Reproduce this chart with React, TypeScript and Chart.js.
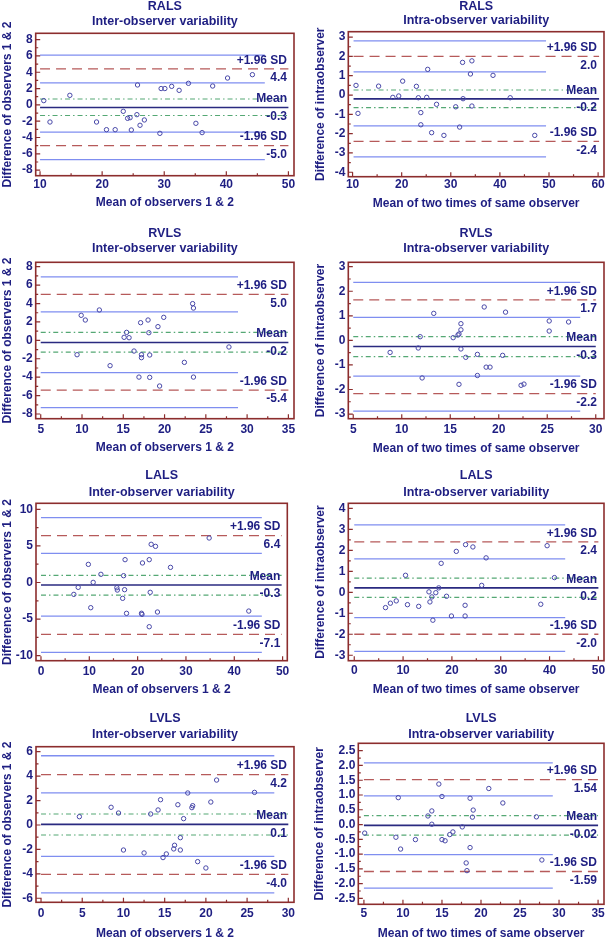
import React, { useEffect, useRef } from "react";
import { Chart, registerables } from "chart.js";

Chart.register(...registerables);

// ---------------- data ----------------
// RALS inter-observer
const RALS_INTER_X = [10.6, 11.6, 14.8, 19.1, 20.7, 22.1, 23.4, 24.1, 24.5, 24.7, 25.6, 25.7, 26.1, 26.8, 29.3, 29.5, 30.1, 31.2, 32.4, 33.9, 35.1, 36.1, 37.8, 40.2, 44.2];
const RALS_INTER_Y = [0.52, -2.1, 1.17, -2.1, -3.04, -3.04, -0.79, -1.65, -1.57, -3.08, -1.2, 2.44, -2.5, -1.85, -3.49, 2.0, 2.0, 2.27, 1.78, 2.64, -2.26, -3.4, 2.31, 3.29, 3.7];
const RALS_INTER_LEVELS = [6.1, 4.4, 2.7, 0.72, -0.33, -1.3, -3.33, -5.0, -6.72];
const RALS_INTER_LABELS = ["4.4", "-0.3", "-5.0"];
const RALS_INTER_XTICKS = [10, 20, 30, 40, 50];
const RALS_INTER_YTICKS = [-8, -6, -4, -2, 0, 2, 4, 6, 8];

// RALS intra-observer
const RALS_INTRA_X = [10.7, 11.1, 15.3, 18.2, 19.4, 20.2, 23.0, 23.4, 23.9, 23.9, 25.1, 25.3, 26.1, 27.1, 28.6, 31.0, 31.8, 32.4, 32.5, 34.0, 34.3, 34.3, 38.6, 42.1, 47.1];
const RALS_INTRA_Y = [0.5, -0.95, 0.46, -0.12, -0.05, 0.72, 0.45, -0.14, -0.91, -1.54, -0.12, 1.33, -1.95, -0.48, -2.09, -0.61, -1.66, 1.69, -0.19, 1.09, 1.77, -0.57, 1.02, -0.14, -2.09];
const RALS_INTRA_LEVELS = [2.8, 2.0, 1.2, 0.26, -0.2, -0.65, -1.6, -2.4, -3.2];
const RALS_INTRA_LABELS = ["2.0", "-0.2", "-2.4"];
const RALS_INTRA_XTICKS = [10, 20, 30, 40, 50, 60];
const RALS_INTRA_YTICKS = [-4, -3, -2, -1, 0, 1, 2, 3];

// RVLS inter-observer
const RVLS_INTER_X = [9.4, 9.9, 10.4, 12.1, 13.4, 15.1, 15.4, 15.7, 16.3, 16.9, 17.1, 17.2, 17.2, 18.0, 18.1, 18.2, 18.2, 19.2, 19.4, 19.9, 22.4, 23.4, 23.5, 23.5, 27.8];
const RVLS_INTER_Y = [-1.56, 2.72, 2.21, 3.3, -2.75, 0.33, 0.87, 0.29, -1.16, -3.99, 1.92, -1.56, -1.88, 2.21, 0.83, -1.59, -4.02, 1.49, -4.96, 2.5, -2.39, 3.99, 3.51, -3.99, -0.72];
const RVLS_INTER_LEVELS = [6.9, 5.0, 3.1, 0.86, -0.23, -1.27, -3.5, -5.4, -7.3];
const RVLS_INTER_LABELS = ["5.0", "-0.2", "-5.4"];
const RVLS_INTER_XTICKS = [5, 10, 15, 20, 25, 30, 35];
const RVLS_INTER_YTICKS = [-8, -6, -4, -2, 0, 2, 4, 6, 8];

// RVLS intra-observer
const RVLS_INTRA_X = [8.8, 11.7, 11.9, 12.1, 13.3, 15.3, 15.8, 15.9, 15.9, 16.1, 16.1, 16.1, 16.6, 17.8, 17.8, 18.5, 18.7, 19.1, 20.4, 20.7, 22.3, 22.6, 25.2, 25.2, 27.2];
const RVLS_INTRA_Y = [-0.49, -0.31, 0.15, -1.53, 1.1, 0.11, 0.22, -1.79, 0.26, 0.68, 0.43, -0.35, -0.69, -0.57, -1.43, 1.36, -1.09, -1.09, -0.61, 1.15, -1.83, -1.78, 0.38, 0.79, 0.75];
const RVLS_INTRA_LEVELS = [2.36, 1.65, 0.94, 0.15, -0.25, -0.66, -1.46, -2.17, -2.88];
const RVLS_INTRA_LABELS = ["1.7", "-0.3", "-2.2"];
const RVLS_INTRA_XTICKS = [5, 10, 15, 20, 25, 30];
const RVLS_INTRA_YTICKS = [-3, -2, -1, 0, 1, 2, 3];

// LALS inter-observer
const LALS_INTER_X = [6.8, 7.7, 9.8, 10.3, 10.8, 12.4, 15.7, 15.8, 16.9, 17.1, 17.3, 17.4, 17.7, 20.8, 20.9, 21.0, 22.4, 22.4, 22.6, 22.8, 23.7, 24.1, 26.8, 34.8, 43.0];
const LALS_INTER_Y = [-1.62, -0.66, 2.48, -3.44, 0.02, 1.12, -0.71, -1.03, -2.16, 0.93, -0.98, 3.12, -4.21, -4.2, -4.35, 2.67, 3.12, -6.04, -1.34, 5.22, 4.94, -4.03, 2.07, 6.08, -3.9];
const LALS_INTER_LEVELS = [8.86, 6.4, 3.97, 0.98, -0.34, -1.72, -4.6, -7.08, -9.54];
const LALS_INTER_LABELS = ["6.4", "-0.3", "-7.1"];
const LALS_INTER_XTICKS = [0, 10, 20, 30, 40, 50];
const LALS_INTER_YTICKS = [-10, -5, 0, 5, 10];

// LALS intra-observer
const LALS_INTRA_X = [6.4, 7.4, 8.6, 10.5, 10.9, 13.2, 15.3, 15.5, 15.9, 16.1, 16.7, 17.3, 17.8, 18.9, 19.9, 20.9, 22.7, 22.7, 22.8, 24.3, 26.1, 27.0, 38.2, 39.5, 41.0];
const LALS_INTRA_Y = [-0.73, -0.52, -0.41, 0.81, -0.59, -0.67, 0.02, -0.46, -0.22, -1.33, -0.02, 0.21, 1.38, -0.19, -1.13, 1.95, -0.62, -1.13, 2.27, 2.16, 0.33, 1.64, -0.57, 2.22, 0.7];
const LALS_INTRA_LEVELS = [3.21, 2.4, 1.59, 0.67, 0.21, -0.24, -1.21, -2.0, -2.82];
const LALS_INTRA_LABELS = ["2.4", "0.2", "-2.0"];
const LALS_INTRA_XTICKS = [0, 10, 20, 30, 40, 50];
const LALS_INTRA_YTICKS = [-3, -2, -1, 0, 1, 2, 3, 4];

// LVLS inter-observer
const LVLS_INTER_X = [4.65, 8.5, 9.4, 10.0, 12.5, 13.3, 14.2, 14.5, 14.8, 15.2, 16.1, 16.2, 16.6, 16.9, 16.9, 17.3, 17.8, 18.3, 18.4, 19.0, 20.0, 20.6, 21.3, 25.9];
const LVLS_INTER_Y = [0.68, 1.45, 0.98, -2.05, -2.29, 0.9, 1.23, 2.07, -2.67, -2.37, -1.96, -1.66, 1.66, -1.04, -2.05, 0.52, 2.62, 1.42, 1.58, -3.0, -3.52, 1.88, 3.68, 2.67];
const LVLS_INTER_LEVELS = [5.67, 4.12, 2.63, 0.9, 0.05, -0.82, -2.57, -4.04, -5.56];
const LVLS_INTER_LABELS = ["4.2", "0.1", "-4.0"];
const LVLS_INTER_XTICKS = [0, 5, 10, 15, 20, 25, 30];
const LVLS_INTER_YTICKS = [-6, -4, -2, 0, 2, 4, 6];

// LVLS intra-observer
const LVLS_INTRA_X = [5.1, 9.1, 9.4, 9.7, 11.6, 13.2, 13.7, 13.7, 14.6, 15.0, 15.0, 15.4, 16.0, 16.4, 17.6, 18.1, 18.2, 18.6, 18.6, 18.9, 19.0, 21.0, 22.8, 27.1, 27.8];
const LVLS_INTRA_Y = [-0.29, -0.43, 0.91, -0.83, -0.51, 0.29, 0.46, 0.01, 1.37, 0.95, -0.51, -0.55, -0.34, -0.25, -0.08, -1.3, -1.56, 0.89, -0.78, 0.25, 0.49, 1.22, 0.73, 0.26, -1.2];
const LVLS_INTRA_LEVELS = [2.09, 1.52, 0.97, 0.3, -0.03, -0.36, -1.02, -1.59, -2.15];
const LVLS_INTRA_LABELS = ["1.54", "-0.02", "-1.59"];
const LVLS_INTRA_XTICKS = [5, 10, 15, 20, 25, 30, 35];
const LVLS_INTRA_YTICKS = [-2.5, -2.0, -1.5, -1.0, -0.5, 0, 0.5, 1.0, 1.5, 2.0, 2.5];

// ---------------- styles ----------------
const FONT = "'Liberation Sans', Arial, sans-serif";
const NAVY = "#1e1e82";
const FRAME = "#8c2d2d";
const CI_BLUE = "#7f8ef0";
const LOA_RED = "#b65a5a";
const MEAN_GREEN = "#55a874";
const MEAN_NAVY = "#2a2a80";
const POINT = "#4848a8";

const INTER_Y_TITLE = "Difference of observers 1 & 2";
const INTER_X_TITLE = "Mean of observers 1 & 2";
const INTRA_Y_TITLE = "Difference of intraobserver";
const INTRA_X_TITLE = "Mean of two times of same observer";

type PanelSpec = {
  title: string;
  subtitle: string;
  xTitle: string;
  yTitle: string;
  xs: number[];
  ys: number[];
  levels: number[];
  labels: string[];
  xTicks: number[];
  yTicks: number[];
  yDecimals: number;
  xRange: [number, number];
  yRange: [number, number];
  lineSpan: [number, number, number]; // from, to (full), to (CI)
  cell: [number, number, number, number];
  frame: [number, number, number, number];
  xTickY: number;
  xTitleY: number;
  yTitleX: number;
  titleY: [number, number];
};

// canvas cells overlap slightly (transparent canvases) so titles near row boundaries are not clipped
const ROW_CELLS: [number, number][] = [[0, 228], [222, 246], [462, 241], [698, 243]];
const COL_CELLS: [number, number][] = [[0, 305], [305, 304]];
const cellOf = (r: number, c: number): [number, number, number, number] => [COL_CELLS[c][0], ROW_CELLS[r][0], COL_CELLS[c][1], ROW_CELLS[r][1]];

const PANELS: PanelSpec[] = [
  {
    title: "RALS", subtitle: "Inter-observer variability", xTitle: INTER_X_TITLE, yTitle: INTER_Y_TITLE,
    xs: RALS_INTER_X, ys: RALS_INTER_Y, levels: RALS_INTER_LEVELS, labels: RALS_INTER_LABELS,
    xTicks: RALS_INTER_XTICKS, yTicks: RALS_INTER_YTICKS, yDecimals: 0,
    xRange: [9.3, 50.9], yRange: [-8.68, 8.77], lineSpan: [10, 50, 46.2],
    cell: cellOf(0, 0), frame: [35.7, 33.3, 294, 175.7], xTickY: 185, xTitleY: 203, yTitleX: 7.5, titleY: [6.5, 22],
  },
  {
    title: "RALS", subtitle: "Intra-observer variability", xTitle: INTRA_X_TITLE, yTitle: INTRA_Y_TITLE,
    xs: RALS_INTRA_X, ys: RALS_INTRA_Y, levels: RALS_INTRA_LEVELS, labels: RALS_INTRA_LABELS,
    xTicks: RALS_INTRA_XTICKS, yTicks: RALS_INTRA_YTICKS, yDecimals: 0,
    xRange: [9.13, 61.2], yRange: [-4.23, 3.28], lineSpan: [10.2, 60.2, 49.4],
    cell: cellOf(0, 1), frame: [348.3, 31.7, 606.7, 176.7], xTickY: 184.3, xTitleY: 203.3, yTitleX: 320.5, titleY: [6.5, 20.7],
  },
  {
    title: "RVLS", subtitle: "Inter-observer variability", xTitle: INTER_X_TITLE, yTitle: INTER_Y_TITLE,
    xs: RVLS_INTER_X, ys: RVLS_INTER_Y, levels: RVLS_INTER_LEVELS, labels: RVLS_INTER_LABELS,
    xTicks: RVLS_INTER_XTICKS, yTicks: RVLS_INTER_YTICKS, yDecimals: 0,
    xRange: [4.39, 35.68], yRange: [-8.51, 8.48], lineSpan: [5, 35, 28.9],
    cell: cellOf(1, 0), frame: [35.7, 262.3, 294, 418.7], xTickY: 429.3, xTitleY: 447.3, yTitleX: 7.5, titleY: [233.5, 249],
  },
  {
    title: "RVLS", subtitle: "Intra-observer variability", xTitle: INTRA_X_TITLE, yTitle: INTRA_Y_TITLE,
    xs: RVLS_INTRA_X, ys: RVLS_INTRA_Y, levels: RVLS_INTRA_LEVELS, labels: RVLS_INTRA_LABELS,
    xTicks: RVLS_INTRA_XTICKS, yTicks: RVLS_INTRA_YTICKS, yDecimals: 0,
    xRange: [4.49, 30.85], yRange: [-3.19, 3.18], lineSpan: [5, 30, 28.4],
    cell: cellOf(1, 1), frame: [348.3, 262.3, 606.7, 418.7], xTickY: 429.3, xTitleY: 448.3, yTitleX: 320.5, titleY: [233.5, 248.3],
  },
  {
    title: "LALS", subtitle: "Inter-observer variability", xTitle: INTER_X_TITLE, yTitle: INTER_Y_TITLE,
    xs: LALS_INTER_X, ys: LALS_INTER_Y, levels: LALS_INTER_LEVELS, labels: LALS_INTER_LABELS,
    xTicks: LALS_INTER_XTICKS, yTicks: LALS_INTER_YTICKS, yDecimals: 0,
    xRange: [-1.03, 50.97], yRange: [-10.68, 10.82], lineSpan: [0, 49.8, 45.7],
    cell: cellOf(2, 0), frame: [36, 503.3, 287.3, 660.7], xTickY: 671.7, xTitleY: 690, yTitleX: 7.5, titleY: [475.5, 492.7],
  },
  {
    title: "LALS", subtitle: "Intra-observer variability", xTitle: INTRA_X_TITLE, yTitle: INTRA_Y_TITLE,
    xs: LALS_INTRA_X, ys: LALS_INTRA_Y, levels: LALS_INTRA_LEVELS, labels: LALS_INTRA_LABELS,
    xTicks: LALS_INTRA_XTICKS, yTicks: LALS_INTRA_YTICKS, yDecimals: 0,
    xRange: [-1.22, 51.15], yRange: [-3.26, 4.24], lineSpan: [0, 50, 43.2],
    cell: cellOf(2, 1), frame: [348.3, 503.3, 606.7, 660.7], xTickY: 671, xTitleY: 690, yTitleX: 320.5, titleY: [476, 492.7],
  },
  {
    title: "LVLS", subtitle: "Inter-observer variability", xTitle: INTER_X_TITLE, yTitle: INTER_Y_TITLE,
    xs: LVLS_INTER_X, ys: LVLS_INTER_Y, levels: LVLS_INTER_LEVELS, labels: LVLS_INTER_LABELS,
    xTicks: LVLS_INTER_XTICKS, yTicks: LVLS_INTER_YTICKS, yDecimals: 0,
    xRange: [-0.61, 30.69], yRange: [-6.33, 6.41], lineSpan: [0, 30, 28.3],
    cell: cellOf(3, 0), frame: [36, 746.7, 294, 902.3], xTickY: 913.5, xTitleY: 933.3, yTitleX: 7.5, titleY: [719, 734.3],
  },
  {
    title: "LVLS", subtitle: "Intra-observer variability", xTitle: INTRA_X_TITLE, yTitle: INTRA_Y_TITLE,
    xs: LVLS_INTRA_X, ys: LVLS_INTRA_Y, levels: LVLS_INTRA_LEVELS, labels: LVLS_INTRA_LABELS,
    xTicks: LVLS_INTRA_XTICKS, yTicks: LVLS_INTRA_YTICKS, yDecimals: 1,
    xRange: [4.28, 35.76], yRange: [-2.7, 2.75], lineSpan: [5, 35, 29.2],
    cell: cellOf(3, 1), frame: [358.3, 743.3, 606.7, 904.3], xTickY: 913.3, xTitleY: 934, yTitleX: 320, titleY: [719, 734.3],
  },
];

const X_AXIS_H = 20;
const TICK_FONT = { family: FONT, size: 12, weight: "bold" as const };

function buildConfig(p: PanelSpec): any {
  const [cx, cy, cw, ch] = p.cell;
  const [fl, ft, fr, fb] = p.frame;
  const padL = 0;
  const yAxisW = fl - cx - padL;
  const padT = ft - cy;
  const padR = cx + cw - fr;
  const padB = cy + ch - fb - X_AXIS_H;
  const xTickPad = Math.max(0, p.xTickY - fb - 7.2);
  const [from, to, ciTo] = p.lineSpan;
  const lv = p.levels;

  const hLine = (v: number, end: number, color: string, width: number, dash: number[]) => ({
    type: "line",
    data: [{ x: from, y: v }, { x: end, y: v }],
    borderColor: color,
    borderWidth: width,
    borderDash: dash,
    pointRadius: 0,
    showLine: true,
    fill: false,
  });

  const datasets: any[] = [
    {
      type: "scatter",
      data: p.xs.map((x, i) => ({ x, y: p.ys[i] })),
      pointRadius: 2.2,
      pointBorderWidth: 1,
      pointBackgroundColor: "rgba(0,0,0,0)",
      pointBorderColor: POINT,
      showLine: false,
    },
    hLine(lv[4], to, MEAN_NAVY, 1.6, []),
    hLine(lv[3], to, MEAN_GREEN, 1.2, [5, 3, 1.5, 3]),
    hLine(lv[5], to, MEAN_GREEN, 1.2, [5, 3, 1.5, 3]),
    hLine(lv[1], to, LOA_RED, 1.3, [10, 6]),
    hLine(lv[7], to, LOA_RED, 1.3, [10, 6]),
    hLine(lv[0], ciTo, CI_BLUE, 1.3, []),
    hLine(lv[2], ciTo, CI_BLUE, 1.3, []),
    hLine(lv[6], ciTo, CI_BLUE, 1.3, []),
    hLine(lv[8], ciTo, CI_BLUE, 1.3, []),
  ];

  const decor = {
    id: "baDecor",
    afterDatasetsDraw(chart: any) {
      const { ctx, chartArea: a, scales } = chart;
      const xs = scales.x;
      const ys = scales.y;
      ctx.save();
      // frame
      ctx.strokeStyle = FRAME;
      ctx.lineWidth = 1.6;
      ctx.strokeRect(a.left, a.top, a.right - a.left, a.bottom - a.top);
      // inside tick marks (major + minor)
      ctx.lineWidth = 1.2;
      ctx.beginPath();
      const xt = p.xTicks;
      for (let i = 0; i < xt.length; i++) {
        const px = xs.getPixelForValue(xt[i]);
        ctx.moveTo(px, a.bottom);
        ctx.lineTo(px, a.bottom - 4.5);
        if (i < xt.length - 1) {
          const mx = xs.getPixelForValue((xt[i] + xt[i + 1]) / 2);
          ctx.moveTo(mx, a.bottom);
          ctx.lineTo(mx, a.bottom - 2.5);
        }
      }
      const yt = p.yTicks;
      for (let i = 0; i < yt.length; i++) {
        const py = ys.getPixelForValue(yt[i]);
        ctx.moveTo(a.left, py);
        ctx.lineTo(a.left + 4.5, py);
        if (i < yt.length - 1) {
          const my = ys.getPixelForValue((yt[i] + yt[i + 1]) / 2);
          ctx.moveTo(a.left, my);
          ctx.lineTo(a.left + 2.5, my);
        }
      }
      ctx.stroke();
      // line labels
      ctx.fillStyle = NAVY;
      ctx.font = `bold 12px ${FONT}`;
      ctx.textAlign = "right";
      ctx.textBaseline = "middle";
      const rx = a.right - 7;
      const pairs: [number, string, string][] = [
        [lv[1], "+1.96 SD", p.labels[0]],
        [lv[4], "Mean", p.labels[1]],
        [lv[7], "-1.96 SD", p.labels[2]],
      ];
      for (const [v, top, bottom] of pairs) {
        const py = ys.getPixelForValue(v);
        ctx.fillText(top, rx, py - 8.5);
        ctx.fillText(bottom, rx, py + 9);
      }
      // titles
      const cxm = (a.left + a.right) / 2;
      ctx.textAlign = "center";
      ctx.font = `bold 12.5px ${FONT}`;
      ctx.fillText(p.title, cxm, p.titleY[0] - cy);
      ctx.fillText(p.subtitle, cxm, p.titleY[1] - cy);
      // axis titles
      ctx.font = `bold 12px ${FONT}`;
      ctx.fillText(p.xTitle, cxm, p.xTitleY - cy);
      ctx.translate(p.yTitleX - cx, (a.top + a.bottom) / 2);
      ctx.rotate(-Math.PI / 2);
      ctx.fillText(p.yTitle, 0, 0);
      ctx.restore();
    },
  };

  return {
    type: "scatter",
    data: { datasets },
    plugins: [decor],
    options: {
      responsive: false,
      animation: false,
      events: [],
      layout: { padding: { left: padL, top: padT, right: padR, bottom: padB } },
      plugins: { legend: { display: false }, tooltip: { enabled: false }, title: { display: false } },
      scales: {
        x: {
          type: "linear",
          min: p.xRange[0],
          max: p.xRange[1],
          grid: { display: false, drawTicks: false, tickLength: 0 },
          border: { display: false },
          afterBuildTicks: (s: any) => {
            s.ticks = p.xTicks.map((v) => ({ value: v }));
          },
          afterFit: (s: any) => {
            s.height = X_AXIS_H;
          },
          ticks: {
            padding: xTickPad,
            color: NAVY,
            font: TICK_FONT,
            maxRotation: 0,
            autoSkip: false,
            callback: (v: any) => String(v),
          },
        },
        y: {
          type: "linear",
          min: p.yRange[0],
          max: p.yRange[1],
          grid: { display: false, drawTicks: false, tickLength: 0 },
          border: { display: false },
          afterBuildTicks: (s: any) => {
            s.ticks = p.yTicks.map((v) => ({ value: v }));
          },
          afterFit: (s: any) => {
            s.width = yAxisW;
          },
          ticks: {
            padding: 3,
            color: NAVY,
            font: TICK_FONT,
            autoSkip: false,
            callback: (v: any) => Number(v).toFixed(p.yDecimals),
          },
        },
      },
    },
  };
}

function Panel({ spec }: { spec: PanelSpec }) {
  const ref = useRef<HTMLCanvasElement>(null);
  useEffect(() => {
    if (!ref.current) return;
    const chart = new Chart(ref.current, buildConfig(spec));
    return () => chart.destroy();
  }, [spec]);
  const [cx, cy, cw, ch] = spec.cell;
  return (
    <canvas
      ref={ref}
      width={cw}
      height={ch}
      style={{ position: "absolute", left: cx, top: cy, width: cw, height: ch }}
    />
  );
}

export default function App() {
  return (
    <div style={{ position: "absolute", left: 0, top: 0, width: 609, height: 941, background: "#ffffff", overflow: "hidden" }}>
      {PANELS.map((p, i) => (
        <Panel key={i} spec={p} />
      ))}
    </div>
  );
}
